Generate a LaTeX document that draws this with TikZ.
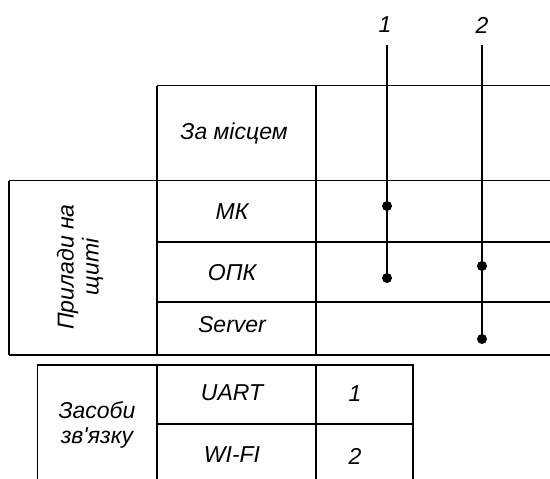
\documentclass[tikz,border=0pt]{standalone}
\usepackage{fontspec}
\setmainfont{Liberation Sans}[Ligatures=TeXOff]
\begin{document}
\begin{tikzpicture}[x=1pt,y=-1pt,
  grid/.style={line width=1.2pt,draw=black},
  lbl/.style={font=\fontsize{23}{25}\selectfont\itshape,inner sep=0pt,anchor=center},
  dotnode/.style={circle,fill=black,inner sep=0pt,minimum size=10pt},
  wire/.style={line width=1.2pt}]
\useasboundingbox (0,0) rectangle (550,479);
% top table
\draw[grid] (157,85.7) -- (550,85.7);
\draw[grid] (9,180.7) -- (550,180.7);
\draw[grid] (157,242) -- (550,242);
\draw[grid] (157,302) -- (550,302);
\draw[grid] (9,355) -- (550,355);
\draw[grid] (9,180.7) -- (9,355);
\draw[grid] (157,85.7) -- (157,355);
\draw[grid] (316,85.7) -- (316,355);
% bottom table
\draw[grid] (37.5,479.5) -- (37.5,365) -- (413,365) -- (413,479.5);
\draw[grid] (157,365) -- (157,479.5);
\draw[grid] (316,365) -- (316,479.5);
\draw[grid] (157,424) -- (413,424);
% texts
\node[lbl] (zm) at (234,133) {За місцем};
\node[lbl] (mk) at (232,212) {МК};
\node[lbl] (opk) at (232,273) {ОПК};
\node[lbl] (srv) at (232,325) {Server};
\node[lbl] (uart) at (232,393) {UART};
\node[lbl] (wifi) at (232,455) {WI-FI};
\node[lbl] (n1) at (355,394) {1};
\node[lbl] (n2) at (355,456) {2};
\node[lbl,rotate=90,align=center] (pr) at (80,267) {Прилади на\\щиті};
\node[lbl,align=center] (zs) at (97,425) {Засоби\\зв'язку};
\node[lbl] (t1) at (385,25) {1};
\node[lbl] (t2) at (482,25) {2};
% wires
\coordinate (s1) at (387,45);
\coordinate (s2) at (482,45);
\node[dotnode] (d1a) at (387,206) {};
\node[dotnode] (d1b) at (387,278) {};
\node[dotnode] (d2a) at (482,266) {};
\node[dotnode] (d2b) at (482,339) {};
\draw[wire] (s1) -- (d1b.center);
\draw[wire] (s2) -- (d2b.center);
\end{tikzpicture}
\end{document}
